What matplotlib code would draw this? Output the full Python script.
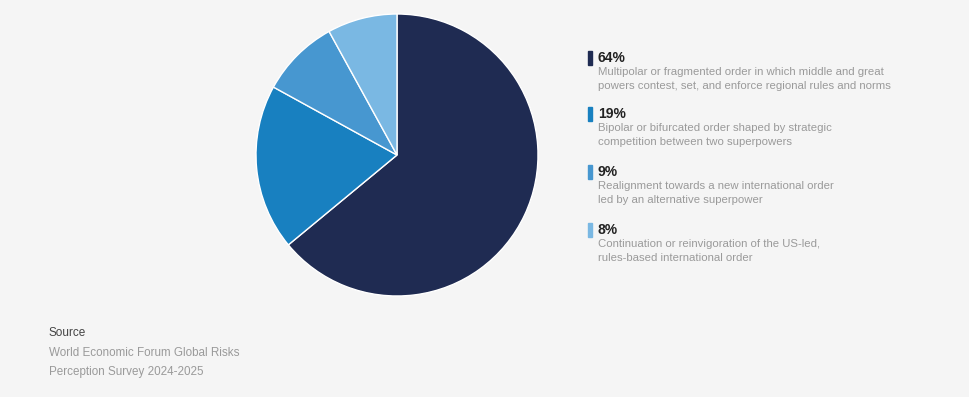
import matplotlib
matplotlib.use("Agg")
import matplotlib.pyplot as plt

shares = [64, 19, 9, 8]
pct_labels = ["64%", "19%", "9%", "8%"]
descriptions = [
    "Multipolar or fragmented order in which middle and great\npowers contest, set, and enforce regional rules and norms",
    "Bipolar or bifurcated order shaped by strategic\ncompetition between two superpowers",
    "Realignment towards a new international order\nled by an alternative superpower",
    "Continuation or reinvigoration of the US-led,\nrules-based international order",
]
colors = ["#1f2b52", "#1880c0", "#4797d0", "#7ab8e3"]
source_title = "Source"
source_lines = ["World Economic Forum Global Risks", "Perception Survey 2024-2025"]

W, H = 970, 397
bg = "#f5f5f5"
plt.rcParams['font.family'] = ['Liberation Sans', 'DejaVu Sans']

fig = plt.figure(figsize=(W / 100, H / 100), dpi=100, facecolor=bg)

cx, cy, r = 397, 155, 141
ax = fig.add_axes([(cx - r) / W, 1 - (cy + r) / H, 2 * r / W, 2 * r / H])
ax.set_facecolor(bg)
ax.pie(shares, colors=colors, startangle=90, counterclock=False, radius=1,
       wedgeprops=dict(edgecolor="white", linewidth=1.0))
ax.set_xlim(-1.0, 1.0)
ax.set_ylim(-1.0, 1.0)
ax.set_aspect("equal")
ax.axis("off")

def fy(y):
    return 1 - y / H

pct_y = [58, 114, 172, 230]
for i in range(len(shares)):
    y = pct_y[i]
    fig.patches.append(plt.Rectangle((588 / W, fy(y + 7)), 4 / W, 14 / H,
                                     transform=fig.transFigure, color=colors[i]))
    fig.text(598 / W, fy(y), pct_labels[i], fontsize=10, fontweight="bold",
             color="#222222", va="center", ha="left")
    line1, line2 = descriptions[i].split("\n")
    fig.text(598 / W, fy(y + 14), line1, fontsize=8.2, color="#9a9a9a",
             va="center", ha="left")
    fig.text(598 / W, fy(y + 28), line2, fontsize=8.2, color="#9a9a9a",
             va="center", ha="left")

fig.text(49 / W, fy(333), source_title, fontsize=8.5, color="#444444", va="center", ha="left")
fig.text(49 / W, fy(353), source_lines[0], fontsize=8.4, color="#9a9a9a", va="center", ha="left")
fig.text(49 / W, fy(372), source_lines[1], fontsize=8.4, color="#9a9a9a", va="center", ha="left")

fig.savefig("out.png", dpi=100, facecolor=bg)
